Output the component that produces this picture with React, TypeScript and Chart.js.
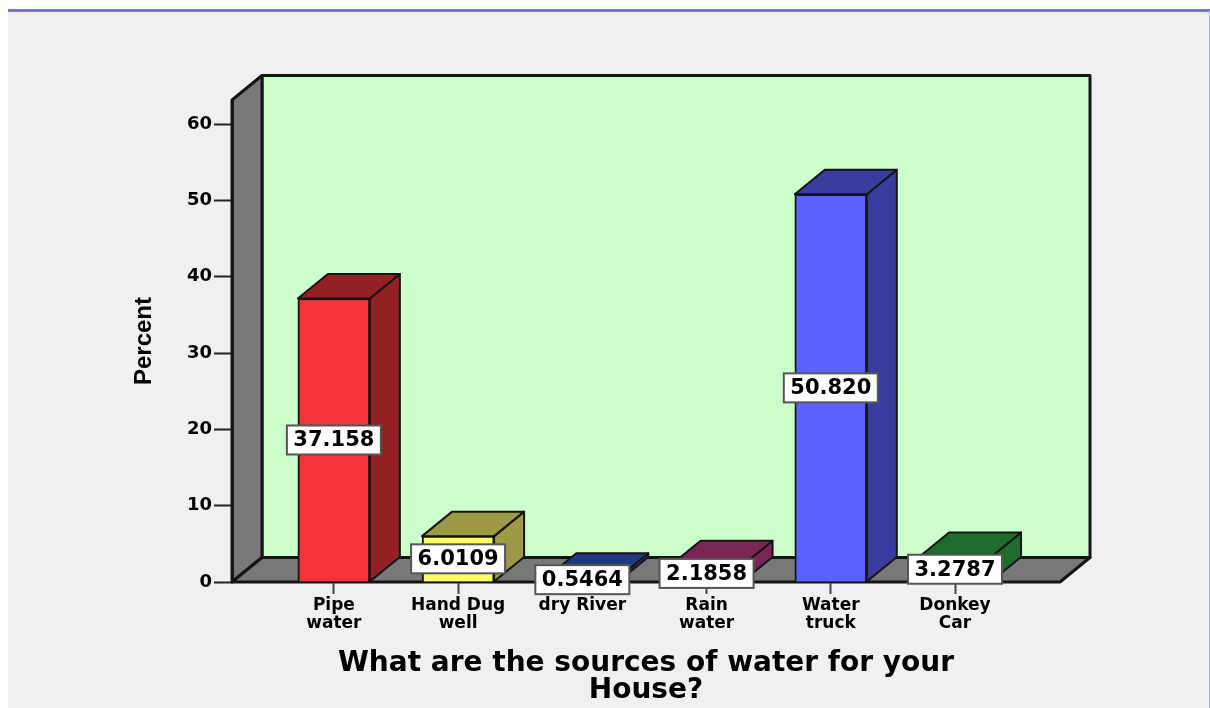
import React, { useEffect, useRef } from "react";
import { Chart, registerables } from "chart.js";

Chart.register(...registerables);

const categories = [["Pipe", "water"], ["Hand Dug", "well"], ["dry River"], ["Rain", "water"], ["Water", "truck"], ["Donkey", "Car"]];
const percentValues = [37.158, 6.0109, 0.5464, 2.1858, 50.82, 3.2787];
const valueLabels = ["37.158", "6.0109", "0.5464", "2.1858", "50.820", "3.2787"];
const frontColors = ["#f5333a", "#ffff66", "#3350b8", "#a8336f", "#5b62ff", "#2a9a3c"];
const shadeColors = ["#922024", "#9c9a45", "#1f3a80", "#7a2555", "#3a3c9e", "#1f6b2b"];
const yTicks = [0, 10, 20, 30, 40, 50, 60];
const xTitle = ["What are the sources of water for your", "House?"];
const yTitle = "Percent";

const DX = 30;
const DY = -24.5;
const EDGE = "#151515";

function poly(ctx: CanvasRenderingContext2D, pts: number[][], fill: string, lw = 2) {
  ctx.beginPath();
  pts.forEach(([x, y], i) => (i ? ctx.lineTo(x, y) : ctx.moveTo(x, y)));
  ctx.closePath();
  ctx.fillStyle = fill;
  ctx.fill();
  ctx.lineWidth = lw;
  ctx.strokeStyle = EDGE;
  ctx.lineJoin = "round";
  ctx.stroke();
}

const box3d = {
  id: "box3d",
  beforeDraw(chart: any) {
    const { ctx, chartArea: a } = chart;
    ctx.save();
    poly(ctx, [[a.left + DX, a.top + DY], [a.right + DX, a.top + DY], [a.right + DX, a.bottom + DY], [a.left + DX, a.bottom + DY]], "#ccffcc", 3);
    poly(ctx, [[a.left, a.top], [a.left + DX, a.top + DY], [a.left + DX, a.bottom + DY], [a.left, a.bottom]], "#787878", 3);
    poly(ctx, [[a.left, a.bottom], [a.left + DX, a.bottom + DY], [a.right + DX, a.bottom + DY], [a.right, a.bottom]], "#787878", 3);
    ctx.restore();
  },
  beforeDatasetsDraw(chart: any) {
    const { ctx } = chart;
    ctx.save();
    chart.getDatasetMeta(0).data.forEach((bar: any, i: number) => {
      const l = bar.x - bar.width / 2;
      const r = bar.x + bar.width / 2;
      poly(ctx, [[r, bar.y], [r + DX, bar.y + DY], [r + DX, bar.base + DY], [r, bar.base]], shadeColors[i]);
      poly(ctx, [[l, bar.y], [l + DX, bar.y + DY], [r + DX, bar.y + DY], [r, bar.y]], shadeColors[i]);
    });
    ctx.restore();
  },
  afterDatasetsDraw(chart: any) {
    const { ctx } = chart;
    ctx.save();
    ctx.font = "bold 21px 'DejaVu Sans'";
    ctx.textAlign = "center";
    ctx.textBaseline = "middle";
    chart.getDatasetMeta(0).data.forEach((bar: any, i: number) => {
      const cy = (bar.y + bar.base) / 2;
      const w = 94;
      const h = 29;
      ctx.fillStyle = "#ffffff";
      ctx.fillRect(bar.x - w / 2, cy - h / 2, w, h);
      ctx.lineWidth = 2;
      ctx.strokeStyle = "#555555";
      ctx.strokeRect(bar.x - w / 2, cy - h / 2, w, h);
      ctx.fillStyle = "#000000";
      ctx.fillText(valueLabels[i], bar.x, cy + 1);
    });
    ctx.restore();
  },
};

export default function App() {
  const ref = useRef<HTMLCanvasElement>(null);
  useEffect(() => {
    document.body.style.margin = "0";
    const chart = new Chart(ref.current!, {
      type: "bar",
      data: {
        datasets: [{
          data: percentValues.map((y, x) => ({ x, y })),
          backgroundColor: frontColors,
          borderColor: EDGE,
          borderWidth: 2,
          barThickness: 72,
        }],
      },
      plugins: [box3d],
      options: {
        animation: false,
        responsive: false,
        layout: { padding: { left: 130, right: 150, top: 100, bottom: 4 } },
        plugins: { legend: { display: false }, tooltip: { enabled: false }, title: { display: false } },
        scales: {
          x: {
            type: "linear",
            offset: false,
            min: -0.82,
            max: 5.845,
            afterBuildTicks: (axis: any) => { axis.ticks = categories.map((_, i) => ({ value: i })); },
            afterFit: (axis: any) => { axis.height = 122; },
            grid: { offset: false, drawOnChartArea: false, drawTicks: true, tickLength: 12, tickWidth: 2, tickColor: "#444444" },
            border: { display: true, color: EDGE, width: 2 },
            ticks: {
              autoSkip: false,
              maxRotation: 0,
              padding: 3,
              color: "#000000",
              font: { family: "'DejaVu Sans'", weight: "bold", size: 17, lineHeight: 1.05 },
              callback: (v: any) => categories[v] ?? "",
            },
            title: {
              display: true,
              text: xTitle,
              color: "#000000",
              font: { family: "'DejaVu Sans'", weight: "bold", size: 28, lineHeight: 0.96 },
              padding: 0,
            },
          },
          y: {
            min: 0,
            max: 63.17,
            afterBuildTicks: (axis: any) => { axis.ticks = yTicks.map((value) => ({ value })); },
            afterFit: (axis: any) => { axis.width = 102; },
            grid: { drawOnChartArea: false, drawTicks: true, tickLength: 18, tickWidth: 2, tickColor: "#222222" },
            border: { display: true, color: EDGE, width: 3 },
            ticks: {
              padding: 2,
              color: "#000000",
              font: { family: "'DejaVu Sans'", weight: "bold", size: 18 },
            },
            title: {
              display: true,
              text: yTitle,
              color: "#000000",
              font: { family: "'Liberation Sans Narrow','Liberation Sans'", weight: "bold", size: 24 },
              padding: 0,
            },
          },
        },
      },
    } as any);
    return () => chart.destroy();
  }, []);
  return (
    <div style={{ position: "absolute", left: 0, top: 0, width: 1210, height: 708, background: "#ffffff", overflow: "hidden" }}>
      <div style={{ position: "absolute", left: 8, top: 9, width: 1201, height: 696, background: "#f0f0f0", borderTop: "3px solid #7878c4", borderRight: "1px solid #a8a8e0" }} />
      <canvas ref={ref} width={1210} height={708} style={{ position: "absolute", left: 0, top: 0, display: "block" }} />
    </div>
  );
}
